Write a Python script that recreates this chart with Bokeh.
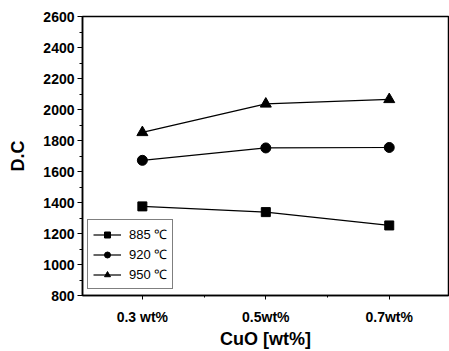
from bokeh.plotting import figure
from bokeh.models import FixedTicker, SingleIntervalTicker, Legend, LegendItem, Range1d
from bokeh.embed import file_html
from bokeh.resources import INLINE

cuo = [0.3, 0.5, 0.7]
tick_labels = {0.3: "0.3 wt%", 0.5: "0.5wt%", 0.7: "0.7wt%"}
dc_885 = [1375, 1338, 1252]
dc_920 = [1672, 1752, 1755]
dc_950 = [1852, 2036, 2065]
names = ["885 \u2103", "920 \u2103", "950 \u2103"]

FONT = "Liberation Sans"

p = figure(width=449, height=351, output_backend="svg", toolbar_location=None,
           x_range=Range1d(0.203, 0.796), y_range=Range1d(800, 2600),
           min_border_left=82, min_border_right=1, min_border_top=16, min_border_bottom=55)
p.grid.visible = False
p.outline_line_color = "black"
p.outline_line_width = 1.5

r1l = p.line(cuo, dc_885, line_color="black", line_width=1.2)
r1m = p.scatter(cuo, dc_885, marker="square", size=9, color="black")
r2l = p.line(cuo, dc_920, line_color="black", line_width=1.2)
r2m = p.scatter(cuo, dc_920, marker="circle", size=10, color="black")
r3l = p.line(cuo, dc_950, line_color="black", line_width=1.2)
r3m = p.scatter(cuo, dc_950, marker="triangle", size=11, color="black")

legend = Legend(items=[LegendItem(label=names[0], renderers=[r1l, r1m]),
                       LegendItem(label=names[1], renderers=[r2l, r2m]),
                       LegendItem(label=names[2], renderers=[r3l, r3m])],
                location=(5, 6), border_line_color="black", border_line_width=1,
                label_text_font=FONT, label_text_font_size="13px", label_text_color="black",
                glyph_width=28, glyph_height=15, label_height=15, spacing=2,
                padding=5, margin=0, label_standoff=8, background_fill_alpha=1)
p.add_layout(legend, "center")

xa = p.xaxis[0]
xa.ticker = FixedTicker(ticks=cuo, minor_ticks=[0.2, 0.4, 0.6, 0.8])
xa.major_label_overrides = tick_labels
xa.axis_label = "CuO [wt%]"
xa.major_label_text_font = FONT
xa.major_label_text_font_style = "bold"
xa.major_label_text_font_size = "14px"
xa.major_label_text_color = "black"
xa.major_label_standoff = 9
xa.axis_label_text_font = FONT
xa.axis_label_text_font_style = "bold"
xa.axis_label_text_font_size = "18px"
xa.axis_label_text_color = "black"
xa.axis_label_standoff = 1
xa.major_tick_in = 0
xa.major_tick_out = 4
xa.minor_tick_in = 0
xa.minor_tick_out = 2
xa.axis_line_width = 1.5
xa.axis_line_color = "black"
xa.major_tick_line_color = "black"
xa.minor_tick_line_color = "black"

ya = p.yaxis[0]
ya.ticker = SingleIntervalTicker(interval=200, num_minor_ticks=2)
ya.axis_label = "D.C"
ya.major_label_text_font = FONT
ya.major_label_text_font_style = "bold"
ya.major_label_text_font_size = "14px"
ya.major_label_text_color = "black"
ya.major_label_standoff = 3
ya.axis_label_text_font = FONT
ya.axis_label_text_font_style = "bold"
ya.axis_label_text_font_size = "18px"
ya.axis_label_text_color = "black"
ya.axis_label_standoff = 12
ya.major_tick_in = 0
ya.major_tick_out = 5
ya.minor_tick_in = 0
ya.minor_tick_out = 3
ya.axis_line_width = 1.5
ya.axis_line_color = "black"
ya.major_tick_line_color = "black"
ya.minor_tick_line_color = "black"

open("out.html", "w").write(file_html(p, INLINE))
